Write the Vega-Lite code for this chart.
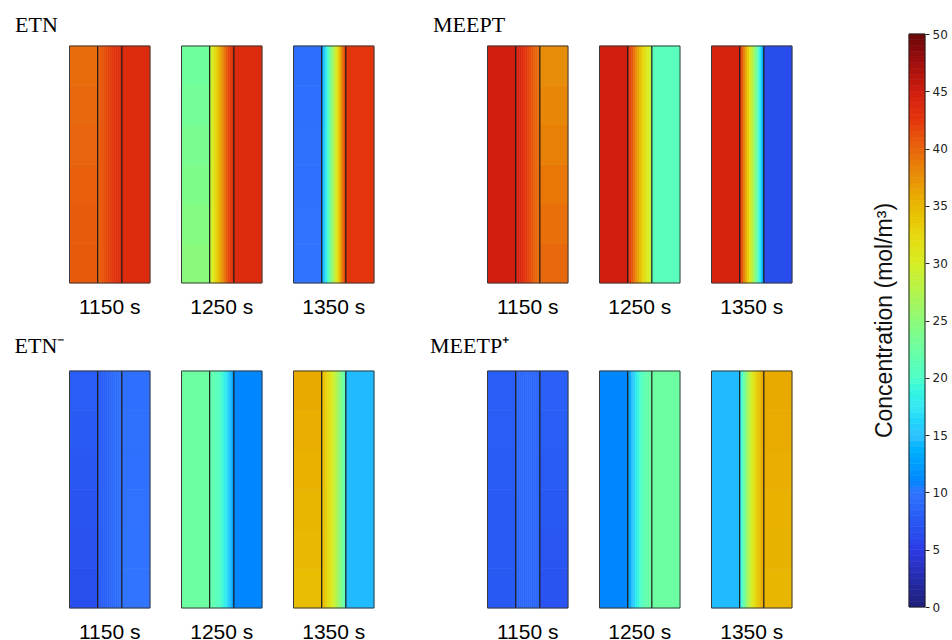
{
  "$schema": "https://vega.github.io/schema/vega-lite/v6.json",
  "background": "white",
  "padding": {"left": 14.5, "top": 14, "right": 0, "bottom": 0},
  "config": {
    "view": {"stroke": null},
    "font": "Liberation Sans",
    "title": {"font": "Liberation Serif", "fontSize": 22, "fontWeight": "normal", "color": "#000", "anchor": "start"},
    "header": {"title": null, "labelOrient": "bottom", "labelFontSize": 21, "labelFont": "Liberation Sans", "labelColor": "#000", "labelPadding": 13}
  },
  "resolve": {"scale": {"color": "shared", "stroke": "shared"}},
  "datasets": {
    "bar": [
      {"lo":0,"hi":0.5,"v":0.25},{"lo":0.5,"hi":1,"v":0.75},{"lo":1,"hi":1.5,"v":1.25},{"lo":1.5,"hi":2,"v":1.75},{"lo":2,"hi":2.5,"v":2.25},
      {"lo":2.5,"hi":3,"v":2.75},{"lo":3,"hi":3.5,"v":3.25},{"lo":3.5,"hi":4,"v":3.75},{"lo":4,"hi":4.5,"v":4.25},{"lo":4.5,"hi":5,"v":4.75},
      {"lo":5,"hi":5.5,"v":5.25},{"lo":5.5,"hi":6,"v":5.75},{"lo":6,"hi":6.5,"v":6.25},{"lo":6.5,"hi":7,"v":6.75},{"lo":7,"hi":7.5,"v":7.25},
      {"lo":7.5,"hi":8,"v":7.75},{"lo":8,"hi":8.5,"v":8.25},{"lo":8.5,"hi":9,"v":8.75},{"lo":9,"hi":9.5,"v":9.25},{"lo":9.5,"hi":10,"v":9.75},
      {"lo":10,"hi":10.5,"v":10.25},{"lo":10.5,"hi":11,"v":10.75},{"lo":11,"hi":11.5,"v":11.25},{"lo":11.5,"hi":12,"v":11.75},{"lo":12,"hi":12.5,"v":12.25},
      {"lo":12.5,"hi":13,"v":12.75},{"lo":13,"hi":13.5,"v":13.25},{"lo":13.5,"hi":14,"v":13.75},{"lo":14,"hi":14.5,"v":14.25},{"lo":14.5,"hi":15,"v":14.75},
      {"lo":15,"hi":15.5,"v":15.25},{"lo":15.5,"hi":16,"v":15.75},{"lo":16,"hi":16.5,"v":16.25},{"lo":16.5,"hi":17,"v":16.75},{"lo":17,"hi":17.5,"v":17.25},
      {"lo":17.5,"hi":18,"v":17.75},{"lo":18,"hi":18.5,"v":18.25},{"lo":18.5,"hi":19,"v":18.75},{"lo":19,"hi":19.5,"v":19.25},{"lo":19.5,"hi":20,"v":19.75},
      {"lo":20,"hi":20.5,"v":20.25},{"lo":20.5,"hi":21,"v":20.75},{"lo":21,"hi":21.5,"v":21.25},{"lo":21.5,"hi":22,"v":21.75},{"lo":22,"hi":22.5,"v":22.25},
      {"lo":22.5,"hi":23,"v":22.75},{"lo":23,"hi":23.5,"v":23.25},{"lo":23.5,"hi":24,"v":23.75},{"lo":24,"hi":24.5,"v":24.25},{"lo":24.5,"hi":25,"v":24.75},
      {"lo":25,"hi":25.5,"v":25.25},{"lo":25.5,"hi":26,"v":25.75},{"lo":26,"hi":26.5,"v":26.25},{"lo":26.5,"hi":27,"v":26.75},{"lo":27,"hi":27.5,"v":27.25},
      {"lo":27.5,"hi":28,"v":27.75},{"lo":28,"hi":28.5,"v":28.25},{"lo":28.5,"hi":29,"v":28.75},{"lo":29,"hi":29.5,"v":29.25},{"lo":29.5,"hi":30,"v":29.75},
      {"lo":30,"hi":30.5,"v":30.25},{"lo":30.5,"hi":31,"v":30.75},{"lo":31,"hi":31.5,"v":31.25},{"lo":31.5,"hi":32,"v":31.75},{"lo":32,"hi":32.5,"v":32.25},
      {"lo":32.5,"hi":33,"v":32.75},{"lo":33,"hi":33.5,"v":33.25},{"lo":33.5,"hi":34,"v":33.75},{"lo":34,"hi":34.5,"v":34.25},{"lo":34.5,"hi":35,"v":34.75},
      {"lo":35,"hi":35.5,"v":35.25},{"lo":35.5,"hi":36,"v":35.75},{"lo":36,"hi":36.5,"v":36.25},{"lo":36.5,"hi":37,"v":36.75},{"lo":37,"hi":37.5,"v":37.25},
      {"lo":37.5,"hi":38,"v":37.75},{"lo":38,"hi":38.5,"v":38.25},{"lo":38.5,"hi":39,"v":38.75},{"lo":39,"hi":39.5,"v":39.25},{"lo":39.5,"hi":40,"v":39.75},
      {"lo":40,"hi":40.5,"v":40.25},{"lo":40.5,"hi":41,"v":40.75},{"lo":41,"hi":41.5,"v":41.25},{"lo":41.5,"hi":42,"v":41.75},{"lo":42,"hi":42.5,"v":42.25},
      {"lo":42.5,"hi":43,"v":42.75},{"lo":43,"hi":43.5,"v":43.25},{"lo":43.5,"hi":44,"v":43.75},{"lo":44,"hi":44.5,"v":44.25},{"lo":44.5,"hi":45,"v":44.75},
      {"lo":45,"hi":45.5,"v":45.25},{"lo":45.5,"hi":46,"v":45.75},{"lo":46,"hi":46.5,"v":46.25},{"lo":46.5,"hi":47,"v":46.75},{"lo":47,"hi":47.5,"v":47.25},
      {"lo":47.5,"hi":48,"v":47.75},{"lo":48,"hi":48.5,"v":48.25},{"lo":48.5,"hi":49,"v":48.75},{"lo":49,"hi":49.5,"v":49.25},{"lo":49.5,"hi":50,"v":49.75}
    ],
    "d": [
      {"g":"ETN","t":"1150 s","k":"c","x0":0,"x1":0.35,"y0":0,"y1":0.1667,"v":40.7},
      {"g":"ETN","t":"1150 s","k":"c","x0":0,"x1":0.35,"y0":0.1667,"y1":0.3333,"v":40.5},
      {"g":"ETN","t":"1150 s","k":"c","x0":0,"x1":0.35,"y0":0.3333,"y1":0.5,"v":40.3},
      {"g":"ETN","t":"1150 s","k":"c","x0":0,"x1":0.35,"y0":0.5,"y1":0.6667,"v":40.0},
      {"g":"ETN","t":"1150 s","k":"c","x0":0,"x1":0.35,"y0":0.6667,"y1":0.8333,"v":39.8},
      {"g":"ETN","t":"1150 s","k":"c","x0":0,"x1":0.35,"y0":0.8333,"y1":1,"v":39.6},
      {"g":"ETN","t":"1150 s","k":"c","x0":0.35,"x1":0.375,"y0":0,"y1":1,"v":40.3},
      {"g":"ETN","t":"1150 s","k":"c","x0":0.375,"x1":0.4,"y0":0,"y1":1,"v":40.6},
      {"g":"ETN","t":"1150 s","k":"c","x0":0.4,"x1":0.425,"y0":0,"y1":1,"v":40.9},
      {"g":"ETN","t":"1150 s","k":"c","x0":0.425,"x1":0.45,"y0":0,"y1":1,"v":41.2},
      {"g":"ETN","t":"1150 s","k":"c","x0":0.45,"x1":0.475,"y0":0,"y1":1,"v":41.5},
      {"g":"ETN","t":"1150 s","k":"c","x0":0.475,"x1":0.5,"y0":0,"y1":1,"v":41.8},
      {"g":"ETN","t":"1150 s","k":"c","x0":0.5,"x1":0.525,"y0":0,"y1":1,"v":42.1},
      {"g":"ETN","t":"1150 s","k":"c","x0":0.525,"x1":0.55,"y0":0,"y1":1,"v":42.4},
      {"g":"ETN","t":"1150 s","k":"c","x0":0.55,"x1":0.575,"y0":0,"y1":1,"v":42.7},
      {"g":"ETN","t":"1150 s","k":"c","x0":0.575,"x1":0.6,"y0":0,"y1":1,"v":42.9},
      {"g":"ETN","t":"1150 s","k":"c","x0":0.6,"x1":0.625,"y0":0,"y1":1,"v":43.1},
      {"g":"ETN","t":"1150 s","k":"c","x0":0.625,"x1":0.65,"y0":0,"y1":1,"v":43.3},
      {"g":"ETN","t":"1150 s","k":"c","x0":0.65,"x1":1,"y0":0,"y1":1,"v":43.5},
      {"g":"ETN","t":"1150 s","k":"e","x0":0.35},
      {"g":"ETN","t":"1150 s","k":"e","x0":0.65},

      {"g":"ETN","t":"1250 s","k":"c","x0":0,"x1":0.35,"y0":0,"y1":0.1667,"v":24.8},
      {"g":"ETN","t":"1250 s","k":"c","x0":0,"x1":0.35,"y0":0.1667,"y1":0.3333,"v":24.4},
      {"g":"ETN","t":"1250 s","k":"c","x0":0,"x1":0.35,"y0":0.3333,"y1":0.5,"v":24.0},
      {"g":"ETN","t":"1250 s","k":"c","x0":0,"x1":0.35,"y0":0.5,"y1":0.6667,"v":23.6},
      {"g":"ETN","t":"1250 s","k":"c","x0":0,"x1":0.35,"y0":0.6667,"y1":0.8333,"v":23.2},
      {"g":"ETN","t":"1250 s","k":"c","x0":0,"x1":0.35,"y0":0.8333,"y1":1,"v":22.8},
      {"g":"ETN","t":"1250 s","k":"c","x0":0.35,"x1":0.375,"y0":0,"y1":1,"v":28.5},
      {"g":"ETN","t":"1250 s","k":"c","x0":0.375,"x1":0.4,"y0":0,"y1":1,"v":30},
      {"g":"ETN","t":"1250 s","k":"c","x0":0.4,"x1":0.425,"y0":0,"y1":1,"v":31.5},
      {"g":"ETN","t":"1250 s","k":"c","x0":0.425,"x1":0.45,"y0":0,"y1":1,"v":33},
      {"g":"ETN","t":"1250 s","k":"c","x0":0.45,"x1":0.475,"y0":0,"y1":1,"v":34.5},
      {"g":"ETN","t":"1250 s","k":"c","x0":0.475,"x1":0.5,"y0":0,"y1":1,"v":36},
      {"g":"ETN","t":"1250 s","k":"c","x0":0.5,"x1":0.525,"y0":0,"y1":1,"v":37.5},
      {"g":"ETN","t":"1250 s","k":"c","x0":0.525,"x1":0.55,"y0":0,"y1":1,"v":39},
      {"g":"ETN","t":"1250 s","k":"c","x0":0.55,"x1":0.575,"y0":0,"y1":1,"v":40.5},
      {"g":"ETN","t":"1250 s","k":"c","x0":0.575,"x1":0.6,"y0":0,"y1":1,"v":41.5},
      {"g":"ETN","t":"1250 s","k":"c","x0":0.6,"x1":0.625,"y0":0,"y1":1,"v":42.3},
      {"g":"ETN","t":"1250 s","k":"c","x0":0.625,"x1":0.65,"y0":0,"y1":1,"v":42.9},
      {"g":"ETN","t":"1250 s","k":"c","x0":0.65,"x1":1,"y0":0,"y1":1,"v":43.5},
      {"g":"ETN","t":"1250 s","k":"e","x0":0.35},
      {"g":"ETN","t":"1250 s","k":"e","x0":0.65},

      {"g":"ETN","t":"1350 s","k":"c","x0":0,"x1":0.35,"y0":0,"y1":0.1667,"v":9.9},
      {"g":"ETN","t":"1350 s","k":"c","x0":0,"x1":0.35,"y0":0.1667,"y1":0.3333,"v":9.8},
      {"g":"ETN","t":"1350 s","k":"c","x0":0,"x1":0.35,"y0":0.3333,"y1":0.5,"v":9.7},
      {"g":"ETN","t":"1350 s","k":"c","x0":0,"x1":0.35,"y0":0.5,"y1":0.6667,"v":9.6},
      {"g":"ETN","t":"1350 s","k":"c","x0":0,"x1":0.35,"y0":0.6667,"y1":0.8333,"v":9.5},
      {"g":"ETN","t":"1350 s","k":"c","x0":0,"x1":0.35,"y0":0.8333,"y1":1,"v":9.4},
      {"g":"ETN","t":"1350 s","k":"c","x0":0.35,"x1":0.375,"y0":0,"y1":1,"v":13},
      {"g":"ETN","t":"1350 s","k":"c","x0":0.375,"x1":0.4,"y0":0,"y1":1,"v":15.5},
      {"g":"ETN","t":"1350 s","k":"c","x0":0.4,"x1":0.425,"y0":0,"y1":1,"v":18},
      {"g":"ETN","t":"1350 s","k":"c","x0":0.425,"x1":0.45,"y0":0,"y1":1,"v":20.5},
      {"g":"ETN","t":"1350 s","k":"c","x0":0.45,"x1":0.475,"y0":0,"y1":1,"v":23},
      {"g":"ETN","t":"1350 s","k":"c","x0":0.475,"x1":0.5,"y0":0,"y1":1,"v":25.5},
      {"g":"ETN","t":"1350 s","k":"c","x0":0.5,"x1":0.525,"y0":0,"y1":1,"v":28},
      {"g":"ETN","t":"1350 s","k":"c","x0":0.525,"x1":0.55,"y0":0,"y1":1,"v":30.5},
      {"g":"ETN","t":"1350 s","k":"c","x0":0.55,"x1":0.575,"y0":0,"y1":1,"v":33},
      {"g":"ETN","t":"1350 s","k":"c","x0":0.575,"x1":0.6,"y0":0,"y1":1,"v":36},
      {"g":"ETN","t":"1350 s","k":"c","x0":0.6,"x1":0.625,"y0":0,"y1":1,"v":39},
      {"g":"ETN","t":"1350 s","k":"c","x0":0.625,"x1":0.65,"y0":0,"y1":1,"v":41.5},
      {"g":"ETN","t":"1350 s","k":"c","x0":0.65,"x1":1,"y0":0,"y1":1,"v":42.5},
      {"g":"ETN","t":"1350 s","k":"e","x0":0.35},
      {"g":"ETN","t":"1350 s","k":"e","x0":0.65},

      {"g":"MEEPT","t":"1150 s","k":"c","x0":0,"x1":0.35,"y0":0,"y1":1,"v":44.8},
      {"g":"MEEPT","t":"1150 s","k":"c","x0":0.35,"x1":0.375,"y0":0,"y1":1,"v":44.6},
      {"g":"MEEPT","t":"1150 s","k":"c","x0":0.375,"x1":0.4,"y0":0,"y1":1,"v":44.2},
      {"g":"MEEPT","t":"1150 s","k":"c","x0":0.4,"x1":0.425,"y0":0,"y1":1,"v":43.8},
      {"g":"MEEPT","t":"1150 s","k":"c","x0":0.425,"x1":0.45,"y0":0,"y1":1,"v":43.3},
      {"g":"MEEPT","t":"1150 s","k":"c","x0":0.45,"x1":0.475,"y0":0,"y1":1,"v":42.8},
      {"g":"MEEPT","t":"1150 s","k":"c","x0":0.475,"x1":0.5,"y0":0,"y1":1,"v":42.3},
      {"g":"MEEPT","t":"1150 s","k":"c","x0":0.5,"x1":0.525,"y0":0,"y1":1,"v":41.8},
      {"g":"MEEPT","t":"1150 s","k":"c","x0":0.525,"x1":0.55,"y0":0,"y1":1,"v":41.3},
      {"g":"MEEPT","t":"1150 s","k":"c","x0":0.55,"x1":0.575,"y0":0,"y1":1,"v":40.8},
      {"g":"MEEPT","t":"1150 s","k":"c","x0":0.575,"x1":0.6,"y0":0,"y1":1,"v":40.3},
      {"g":"MEEPT","t":"1150 s","k":"c","x0":0.6,"x1":0.625,"y0":0,"y1":1,"v":39.8},
      {"g":"MEEPT","t":"1150 s","k":"c","x0":0.625,"x1":0.65,"y0":0,"y1":1,"v":39.4},
      {"g":"MEEPT","t":"1150 s","k":"c","x0":0.65,"x1":1,"y0":0,"y1":0.1667,"v":39.8},
      {"g":"MEEPT","t":"1150 s","k":"c","x0":0.65,"x1":1,"y0":0.1667,"y1":0.3333,"v":39.4},
      {"g":"MEEPT","t":"1150 s","k":"c","x0":0.65,"x1":1,"y0":0.3333,"y1":0.5,"v":39.0},
      {"g":"MEEPT","t":"1150 s","k":"c","x0":0.65,"x1":1,"y0":0.5,"y1":0.6667,"v":38.5},
      {"g":"MEEPT","t":"1150 s","k":"c","x0":0.65,"x1":1,"y0":0.6667,"y1":0.8333,"v":38.1},
      {"g":"MEEPT","t":"1150 s","k":"c","x0":0.65,"x1":1,"y0":0.8333,"y1":1,"v":37.7},
      {"g":"MEEPT","t":"1150 s","k":"e","x0":0.35},
      {"g":"MEEPT","t":"1150 s","k":"e","x0":0.65},

      {"g":"MEEPT","t":"1250 s","k":"c","x0":0,"x1":0.35,"y0":0,"y1":1,"v":44.8},
      {"g":"MEEPT","t":"1250 s","k":"c","x0":0.35,"x1":0.375,"y0":0,"y1":1,"v":43.5},
      {"g":"MEEPT","t":"1250 s","k":"c","x0":0.375,"x1":0.4,"y0":0,"y1":1,"v":42},
      {"g":"MEEPT","t":"1250 s","k":"c","x0":0.4,"x1":0.425,"y0":0,"y1":1,"v":40.5},
      {"g":"MEEPT","t":"1250 s","k":"c","x0":0.425,"x1":0.45,"y0":0,"y1":1,"v":39},
      {"g":"MEEPT","t":"1250 s","k":"c","x0":0.45,"x1":0.475,"y0":0,"y1":1,"v":37.5},
      {"g":"MEEPT","t":"1250 s","k":"c","x0":0.475,"x1":0.5,"y0":0,"y1":1,"v":36},
      {"g":"MEEPT","t":"1250 s","k":"c","x0":0.5,"x1":0.525,"y0":0,"y1":1,"v":34.5},
      {"g":"MEEPT","t":"1250 s","k":"c","x0":0.525,"x1":0.55,"y0":0,"y1":1,"v":33},
      {"g":"MEEPT","t":"1250 s","k":"c","x0":0.55,"x1":0.575,"y0":0,"y1":1,"v":32},
      {"g":"MEEPT","t":"1250 s","k":"c","x0":0.575,"x1":0.6,"y0":0,"y1":1,"v":31},
      {"g":"MEEPT","t":"1250 s","k":"c","x0":0.6,"x1":0.625,"y0":0,"y1":1,"v":30},
      {"g":"MEEPT","t":"1250 s","k":"c","x0":0.625,"x1":0.65,"y0":0,"y1":1,"v":29},
      {"g":"MEEPT","t":"1250 s","k":"c","x0":0.65,"x1":1,"y0":0,"y1":1,"v":21},
      {"g":"MEEPT","t":"1250 s","k":"e","x0":0.35},
      {"g":"MEEPT","t":"1250 s","k":"e","x0":0.65},

      {"g":"MEEPT","t":"1350 s","k":"c","x0":0,"x1":0.35,"y0":0,"y1":1,"v":44.3},
      {"g":"MEEPT","t":"1350 s","k":"c","x0":0.35,"x1":0.375,"y0":0,"y1":1,"v":43},
      {"g":"MEEPT","t":"1350 s","k":"c","x0":0.375,"x1":0.4,"y0":0,"y1":1,"v":40.5},
      {"g":"MEEPT","t":"1350 s","k":"c","x0":0.4,"x1":0.425,"y0":0,"y1":1,"v":38},
      {"g":"MEEPT","t":"1350 s","k":"c","x0":0.425,"x1":0.45,"y0":0,"y1":1,"v":35.5},
      {"g":"MEEPT","t":"1350 s","k":"c","x0":0.45,"x1":0.475,"y0":0,"y1":1,"v":33},
      {"g":"MEEPT","t":"1350 s","k":"c","x0":0.475,"x1":0.5,"y0":0,"y1":1,"v":30.5},
      {"g":"MEEPT","t":"1350 s","k":"c","x0":0.5,"x1":0.525,"y0":0,"y1":1,"v":28},
      {"g":"MEEPT","t":"1350 s","k":"c","x0":0.525,"x1":0.55,"y0":0,"y1":1,"v":25.5},
      {"g":"MEEPT","t":"1350 s","k":"c","x0":0.55,"x1":0.575,"y0":0,"y1":1,"v":23},
      {"g":"MEEPT","t":"1350 s","k":"c","x0":0.575,"x1":0.6,"y0":0,"y1":1,"v":20},
      {"g":"MEEPT","t":"1350 s","k":"c","x0":0.6,"x1":0.625,"y0":0,"y1":1,"v":17},
      {"g":"MEEPT","t":"1350 s","k":"c","x0":0.625,"x1":0.65,"y0":0,"y1":1,"v":14},
      {"g":"MEEPT","t":"1350 s","k":"c","x0":0.65,"x1":1,"y0":0,"y1":1,"v":6.5},
      {"g":"MEEPT","t":"1350 s","k":"e","x0":0.35},
      {"g":"MEEPT","t":"1350 s","k":"e","x0":0.65},

      {"g":"ETNm","t":"1150 s","k":"c","x0":0,"x1":0.35,"y0":0,"y1":0.1667,"v":6.6},
      {"g":"ETNm","t":"1150 s","k":"c","x0":0,"x1":0.35,"y0":0.1667,"y1":0.3333,"v":6.9},
      {"g":"ETNm","t":"1150 s","k":"c","x0":0,"x1":0.35,"y0":0.3333,"y1":0.5,"v":7.1},
      {"g":"ETNm","t":"1150 s","k":"c","x0":0,"x1":0.35,"y0":0.5,"y1":0.6667,"v":7.4},
      {"g":"ETNm","t":"1150 s","k":"c","x0":0,"x1":0.35,"y0":0.6667,"y1":0.8333,"v":7.6},
      {"g":"ETNm","t":"1150 s","k":"c","x0":0,"x1":0.35,"y0":0.8333,"y1":1,"v":7.9},
      {"g":"ETNm","t":"1150 s","k":"c","x0":0.35,"x1":0.375,"y0":0,"y1":1,"v":7.6},
      {"g":"ETNm","t":"1150 s","k":"c","x0":0.375,"x1":0.4,"y0":0,"y1":1,"v":7.8},
      {"g":"ETNm","t":"1150 s","k":"c","x0":0.4,"x1":0.425,"y0":0,"y1":1,"v":8},
      {"g":"ETNm","t":"1150 s","k":"c","x0":0.425,"x1":0.45,"y0":0,"y1":1,"v":8.2},
      {"g":"ETNm","t":"1150 s","k":"c","x0":0.45,"x1":0.475,"y0":0,"y1":1,"v":8.4},
      {"g":"ETNm","t":"1150 s","k":"c","x0":0.475,"x1":0.5,"y0":0,"y1":1,"v":8.6},
      {"g":"ETNm","t":"1150 s","k":"c","x0":0.5,"x1":0.525,"y0":0,"y1":1,"v":8.8},
      {"g":"ETNm","t":"1150 s","k":"c","x0":0.525,"x1":0.55,"y0":0,"y1":1,"v":9},
      {"g":"ETNm","t":"1150 s","k":"c","x0":0.55,"x1":0.575,"y0":0,"y1":1,"v":9.2},
      {"g":"ETNm","t":"1150 s","k":"c","x0":0.575,"x1":0.6,"y0":0,"y1":1,"v":9.3},
      {"g":"ETNm","t":"1150 s","k":"c","x0":0.6,"x1":0.625,"y0":0,"y1":1,"v":9.4},
      {"g":"ETNm","t":"1150 s","k":"c","x0":0.625,"x1":0.65,"y0":0,"y1":1,"v":9.5},
      {"g":"ETNm","t":"1150 s","k":"c","x0":0.65,"x1":1,"y0":0,"y1":0.1667,"v":10.0},
      {"g":"ETNm","t":"1150 s","k":"c","x0":0.65,"x1":1,"y0":0.1667,"y1":0.3333,"v":9.9},
      {"g":"ETNm","t":"1150 s","k":"c","x0":0.65,"x1":1,"y0":0.3333,"y1":0.5,"v":9.8},
      {"g":"ETNm","t":"1150 s","k":"c","x0":0.65,"x1":1,"y0":0.5,"y1":0.6667,"v":9.7},
      {"g":"ETNm","t":"1150 s","k":"c","x0":0.65,"x1":1,"y0":0.6667,"y1":0.8333,"v":9.6},
      {"g":"ETNm","t":"1150 s","k":"c","x0":0.65,"x1":1,"y0":0.8333,"y1":1,"v":9.5},
      {"g":"ETNm","t":"1150 s","k":"e","x0":0.35},
      {"g":"ETNm","t":"1150 s","k":"e","x0":0.65},

      {"g":"ETNm","t":"1250 s","k":"c","x0":0,"x1":0.35,"y0":0,"y1":1,"v":22.5},
      {"g":"ETNm","t":"1250 s","k":"c","x0":0.35,"x1":0.375,"y0":0,"y1":1,"v":22},
      {"g":"ETNm","t":"1250 s","k":"c","x0":0.375,"x1":0.4,"y0":0,"y1":1,"v":21.7},
      {"g":"ETNm","t":"1250 s","k":"c","x0":0.4,"x1":0.425,"y0":0,"y1":1,"v":21.4},
      {"g":"ETNm","t":"1250 s","k":"c","x0":0.425,"x1":0.45,"y0":0,"y1":1,"v":21},
      {"g":"ETNm","t":"1250 s","k":"c","x0":0.45,"x1":0.475,"y0":0,"y1":1,"v":20.5},
      {"g":"ETNm","t":"1250 s","k":"c","x0":0.475,"x1":0.5,"y0":0,"y1":1,"v":20},
      {"g":"ETNm","t":"1250 s","k":"c","x0":0.5,"x1":0.525,"y0":0,"y1":1,"v":19.3},
      {"g":"ETNm","t":"1250 s","k":"c","x0":0.525,"x1":0.55,"y0":0,"y1":1,"v":18.5},
      {"g":"ETNm","t":"1250 s","k":"c","x0":0.55,"x1":0.575,"y0":0,"y1":1,"v":17.3},
      {"g":"ETNm","t":"1250 s","k":"c","x0":0.575,"x1":0.6,"y0":0,"y1":1,"v":16},
      {"g":"ETNm","t":"1250 s","k":"c","x0":0.6,"x1":0.625,"y0":0,"y1":1,"v":14.5},
      {"g":"ETNm","t":"1250 s","k":"c","x0":0.625,"x1":0.65,"y0":0,"y1":1,"v":13},
      {"g":"ETNm","t":"1250 s","k":"c","x0":0.65,"x1":1,"y0":0,"y1":1,"v":11},
      {"g":"ETNm","t":"1250 s","k":"e","x0":0.35},
      {"g":"ETNm","t":"1250 s","k":"e","x0":0.65},

      {"g":"ETNm","t":"1350 s","k":"c","x0":0,"x1":0.35,"y0":0,"y1":0.1667,"v":34.6},
      {"g":"ETNm","t":"1350 s","k":"c","x0":0,"x1":0.35,"y0":0.1667,"y1":0.3333,"v":34.9},
      {"g":"ETNm","t":"1350 s","k":"c","x0":0,"x1":0.35,"y0":0.3333,"y1":0.5,"v":35.1},
      {"g":"ETNm","t":"1350 s","k":"c","x0":0,"x1":0.35,"y0":0.5,"y1":0.6667,"v":35.4},
      {"g":"ETNm","t":"1350 s","k":"c","x0":0,"x1":0.35,"y0":0.6667,"y1":0.8333,"v":35.6},
      {"g":"ETNm","t":"1350 s","k":"c","x0":0,"x1":0.35,"y0":0.8333,"y1":1,"v":35.9},
      {"g":"ETNm","t":"1350 s","k":"c","x0":0.35,"x1":0.375,"y0":0,"y1":1,"v":35},
      {"g":"ETNm","t":"1350 s","k":"c","x0":0.375,"x1":0.4,"y0":0,"y1":1,"v":34},
      {"g":"ETNm","t":"1350 s","k":"c","x0":0.4,"x1":0.425,"y0":0,"y1":1,"v":33},
      {"g":"ETNm","t":"1350 s","k":"c","x0":0.425,"x1":0.45,"y0":0,"y1":1,"v":32},
      {"g":"ETNm","t":"1350 s","k":"c","x0":0.45,"x1":0.475,"y0":0,"y1":1,"v":31},
      {"g":"ETNm","t":"1350 s","k":"c","x0":0.475,"x1":0.5,"y0":0,"y1":1,"v":30},
      {"g":"ETNm","t":"1350 s","k":"c","x0":0.5,"x1":0.525,"y0":0,"y1":1,"v":29},
      {"g":"ETNm","t":"1350 s","k":"c","x0":0.525,"x1":0.55,"y0":0,"y1":1,"v":27.5},
      {"g":"ETNm","t":"1350 s","k":"c","x0":0.55,"x1":0.575,"y0":0,"y1":1,"v":26},
      {"g":"ETNm","t":"1350 s","k":"c","x0":0.575,"x1":0.6,"y0":0,"y1":1,"v":24.5},
      {"g":"ETNm","t":"1350 s","k":"c","x0":0.6,"x1":0.625,"y0":0,"y1":1,"v":23},
      {"g":"ETNm","t":"1350 s","k":"c","x0":0.625,"x1":0.65,"y0":0,"y1":1,"v":21.5},
      {"g":"ETNm","t":"1350 s","k":"c","x0":0.65,"x1":1,"y0":0,"y1":1,"v":14.5},
      {"g":"ETNm","t":"1350 s","k":"e","x0":0.35},
      {"g":"ETNm","t":"1350 s","k":"e","x0":0.65},

      {"g":"MEETPp","t":"1150 s","k":"c","x0":0,"x1":0.35,"y0":0,"y1":0.1667,"v":7.5},
      {"g":"MEETPp","t":"1150 s","k":"c","x0":0,"x1":0.35,"y0":0.1667,"y1":0.3333,"v":7.6},
      {"g":"MEETPp","t":"1150 s","k":"c","x0":0,"x1":0.35,"y0":0.3333,"y1":0.5,"v":7.7},
      {"g":"MEETPp","t":"1150 s","k":"c","x0":0,"x1":0.35,"y0":0.5,"y1":0.6667,"v":7.8},
      {"g":"MEETPp","t":"1150 s","k":"c","x0":0,"x1":0.35,"y0":0.6667,"y1":0.8333,"v":7.9},
      {"g":"MEETPp","t":"1150 s","k":"c","x0":0,"x1":0.35,"y0":0.8333,"y1":1,"v":8.0},
      {"g":"MEETPp","t":"1150 s","k":"c","x0":0.35,"x1":0.375,"y0":0,"y1":1,"v":8.6},
      {"g":"MEETPp","t":"1150 s","k":"c","x0":0.375,"x1":0.4,"y0":0,"y1":1,"v":8.7},
      {"g":"MEETPp","t":"1150 s","k":"c","x0":0.4,"x1":0.425,"y0":0,"y1":1,"v":8.8},
      {"g":"MEETPp","t":"1150 s","k":"c","x0":0.425,"x1":0.45,"y0":0,"y1":1,"v":8.9},
      {"g":"MEETPp","t":"1150 s","k":"c","x0":0.45,"x1":0.475,"y0":0,"y1":1,"v":8.9},
      {"g":"MEETPp","t":"1150 s","k":"c","x0":0.475,"x1":0.5,"y0":0,"y1":1,"v":9},
      {"g":"MEETPp","t":"1150 s","k":"c","x0":0.5,"x1":0.525,"y0":0,"y1":1,"v":9},
      {"g":"MEETPp","t":"1150 s","k":"c","x0":0.525,"x1":0.55,"y0":0,"y1":1,"v":9},
      {"g":"MEETPp","t":"1150 s","k":"c","x0":0.55,"x1":0.575,"y0":0,"y1":1,"v":8.9},
      {"g":"MEETPp","t":"1150 s","k":"c","x0":0.575,"x1":0.6,"y0":0,"y1":1,"v":8.9},
      {"g":"MEETPp","t":"1150 s","k":"c","x0":0.6,"x1":0.625,"y0":0,"y1":1,"v":8.8},
      {"g":"MEETPp","t":"1150 s","k":"c","x0":0.625,"x1":0.65,"y0":0,"y1":1,"v":8.8},
      {"g":"MEETPp","t":"1150 s","k":"c","x0":0.65,"x1":1,"y0":0,"y1":0.1667,"v":7.1},
      {"g":"MEETPp","t":"1150 s","k":"c","x0":0.65,"x1":1,"y0":0.1667,"y1":0.3333,"v":7.3},
      {"g":"MEETPp","t":"1150 s","k":"c","x0":0.65,"x1":1,"y0":0.3333,"y1":0.5,"v":7.5},
      {"g":"MEETPp","t":"1150 s","k":"c","x0":0.65,"x1":1,"y0":0.5,"y1":0.6667,"v":7.8},
      {"g":"MEETPp","t":"1150 s","k":"c","x0":0.65,"x1":1,"y0":0.6667,"y1":0.8333,"v":8.0},
      {"g":"MEETPp","t":"1150 s","k":"c","x0":0.65,"x1":1,"y0":0.8333,"y1":1,"v":8.2},
      {"g":"MEETPp","t":"1150 s","k":"e","x0":0.35},
      {"g":"MEETPp","t":"1150 s","k":"e","x0":0.65},

      {"g":"MEETPp","t":"1250 s","k":"c","x0":0,"x1":0.35,"y0":0,"y1":1,"v":11},
      {"g":"MEETPp","t":"1250 s","k":"c","x0":0.35,"x1":0.375,"y0":0,"y1":1,"v":12},
      {"g":"MEETPp","t":"1250 s","k":"c","x0":0.375,"x1":0.4,"y0":0,"y1":1,"v":13.5},
      {"g":"MEETPp","t":"1250 s","k":"c","x0":0.4,"x1":0.425,"y0":0,"y1":1,"v":15},
      {"g":"MEETPp","t":"1250 s","k":"c","x0":0.425,"x1":0.45,"y0":0,"y1":1,"v":16.5},
      {"g":"MEETPp","t":"1250 s","k":"c","x0":0.45,"x1":0.475,"y0":0,"y1":1,"v":18},
      {"g":"MEETPp","t":"1250 s","k":"c","x0":0.475,"x1":0.5,"y0":0,"y1":1,"v":19},
      {"g":"MEETPp","t":"1250 s","k":"c","x0":0.5,"x1":0.525,"y0":0,"y1":1,"v":20},
      {"g":"MEETPp","t":"1250 s","k":"c","x0":0.525,"x1":0.55,"y0":0,"y1":1,"v":20.8},
      {"g":"MEETPp","t":"1250 s","k":"c","x0":0.55,"x1":0.575,"y0":0,"y1":1,"v":21.4},
      {"g":"MEETPp","t":"1250 s","k":"c","x0":0.575,"x1":0.6,"y0":0,"y1":1,"v":21.8},
      {"g":"MEETPp","t":"1250 s","k":"c","x0":0.6,"x1":0.625,"y0":0,"y1":1,"v":22.1},
      {"g":"MEETPp","t":"1250 s","k":"c","x0":0.625,"x1":0.65,"y0":0,"y1":1,"v":22.3},
      {"g":"MEETPp","t":"1250 s","k":"c","x0":0.65,"x1":1,"y0":0,"y1":1,"v":22.5},
      {"g":"MEETPp","t":"1250 s","k":"e","x0":0.35},
      {"g":"MEETPp","t":"1250 s","k":"e","x0":0.65},

      {"g":"MEETPp","t":"1350 s","k":"c","x0":0,"x1":0.35,"y0":0,"y1":1,"v":14.5},
      {"g":"MEETPp","t":"1350 s","k":"c","x0":0.35,"x1":0.375,"y0":0,"y1":1,"v":17.5},
      {"g":"MEETPp","t":"1350 s","k":"c","x0":0.375,"x1":0.4,"y0":0,"y1":1,"v":20},
      {"g":"MEETPp","t":"1350 s","k":"c","x0":0.4,"x1":0.425,"y0":0,"y1":1,"v":22.5},
      {"g":"MEETPp","t":"1350 s","k":"c","x0":0.425,"x1":0.45,"y0":0,"y1":1,"v":25},
      {"g":"MEETPp","t":"1350 s","k":"c","x0":0.45,"x1":0.475,"y0":0,"y1":1,"v":27},
      {"g":"MEETPp","t":"1350 s","k":"c","x0":0.475,"x1":0.5,"y0":0,"y1":1,"v":29},
      {"g":"MEETPp","t":"1350 s","k":"c","x0":0.5,"x1":0.525,"y0":0,"y1":1,"v":30.5},
      {"g":"MEETPp","t":"1350 s","k":"c","x0":0.525,"x1":0.55,"y0":0,"y1":1,"v":32},
      {"g":"MEETPp","t":"1350 s","k":"c","x0":0.55,"x1":0.575,"y0":0,"y1":1,"v":33},
      {"g":"MEETPp","t":"1350 s","k":"c","x0":0.575,"x1":0.6,"y0":0,"y1":1,"v":34},
      {"g":"MEETPp","t":"1350 s","k":"c","x0":0.6,"x1":0.625,"y0":0,"y1":1,"v":35},
      {"g":"MEETPp","t":"1350 s","k":"c","x0":0.625,"x1":0.65,"y0":0,"y1":1,"v":36},
      {"g":"MEETPp","t":"1350 s","k":"c","x0":0.65,"x1":1,"y0":0,"y1":0.1667,"v":35.1},
      {"g":"MEETPp","t":"1350 s","k":"c","x0":0.65,"x1":1,"y0":0.1667,"y1":0.3333,"v":35.3},
      {"g":"MEETPp","t":"1350 s","k":"c","x0":0.65,"x1":1,"y0":0.3333,"y1":0.5,"v":35.4},
      {"g":"MEETPp","t":"1350 s","k":"c","x0":0.65,"x1":1,"y0":0.5,"y1":0.6667,"v":35.6},
      {"g":"MEETPp","t":"1350 s","k":"c","x0":0.65,"x1":1,"y0":0.6667,"y1":0.8333,"v":35.8},
      {"g":"MEETPp","t":"1350 s","k":"c","x0":0.65,"x1":1,"y0":0.8333,"y1":1,"v":35.9},
      {"g":"MEETPp","t":"1350 s","k":"e","x0":0.35},
      {"g":"MEETPp","t":"1350 s","k":"e","x0":0.65}
    ]
  },
  "spacing": 80.5,
  "hconcat": [
    {
      "spacing": 17,
      "vconcat": [
        {
          "spacing": 58,
          "hconcat": [
            {
              "title": {"text": "ETN", "dx": -54, "offset": -3},
              "data": {"name": "d"},
              "transform": [{"filter": "datum.g === 'ETN'"}],
              "facet": {"column": {"field": "t", "type": "nominal"}},
              "spacing": 30,
              "spec": {
                "width": 80.5, "height": 249,
                "layer": [
                  {"transform": [{"filter": "datum.k === 'c'"}],
                   "mark": {"type": "rect", "strokeWidth": 0.6},
                   "encoding": {
                     "x": {"field": "x0", "type": "quantitative", "scale": {"domain": [0, 1], "nice": false, "zero": false}, "axis": null},
                     "x2": {"field": "x1"},
                     "y": {"field": "y0", "type": "quantitative", "scale": {"domain": [0, 1.0506], "nice": false, "zero": false}, "axis": null},
                     "y2": {"field": "y1"},
                     "color": {"field": "v", "type": "quantitative", "legend": null,
                       "scale": {"domain": [0,5,10,15,17.5,20,22.5,25,27.5,30,32.5,35,37.5,40,42.5,45,47.5,50], "range": ["#1e1e78","#2c3ae4","#3174ff","#36c2ff","#3ce8f2","#52ffca","#6cffa2","#8cfa78","#b2f44c","#d6ee22","#e6d810","#e8b802","#e8900a","#e8640e","#e4340c","#d01c0e","#a00e0c","#6c0808"]}},
                     "stroke": {"field": "v", "type": "quantitative", "legend": null,
                       "scale": {"domain": [0,5,10,15,17.5,20,22.5,25,27.5,30,32.5,35,37.5,40,42.5,45,47.5,50], "range": ["#1e1e78","#2c3ae4","#3174ff","#36c2ff","#3ce8f2","#52ffca","#6cffa2","#8cfa78","#b2f44c","#d6ee22","#e6d810","#e8b802","#e8900a","#e8640e","#e4340c","#d01c0e","#a00e0c","#6c0808"]}}
                   }},
                  {"transform": [{"filter": "datum.k === 'e'"}],
                   "mark": {"type": "rule", "color": "#1a1a1a", "strokeWidth": 1.2},
                   "encoding": {"x": {"field": "x0", "type": "quantitative"}, "y": {"datum": 0, "type": "quantitative"}, "y2": {"datum": 1}}},
                  {"transform": [{"filter": "datum.k === 'e' && datum.x0 === 0.35"}],
                   "mark": {"type": "rect", "fill": "transparent", "stroke": "#3a3a3a", "strokeWidth": 1},
                   "encoding": {"x": {"datum": 0, "type": "quantitative"}, "x2": {"datum": 1}, "y": {"datum": 0, "type": "quantitative"}, "y2": {"datum": 1}}}
                ]
              }
            },
            {
              "title": {"text": "MEEPT", "dx": -54, "offset": -3},
              "data": {"name": "d"},
              "transform": [{"filter": "datum.g === 'MEEPT'"}],
              "facet": {"column": {"field": "t", "type": "nominal"}},
              "spacing": 30,
              "spec": {
                "width": 80.5, "height": 249,
                "layer": [
                  {"transform": [{"filter": "datum.k === 'c'"}],
                   "mark": {"type": "rect", "strokeWidth": 0.6},
                   "encoding": {
                     "x": {"field": "x0", "type": "quantitative", "scale": {"domain": [0, 1], "nice": false, "zero": false}, "axis": null},
                     "x2": {"field": "x1"},
                     "y": {"field": "y0", "type": "quantitative", "scale": {"domain": [0, 1.0506], "nice": false, "zero": false}, "axis": null},
                     "y2": {"field": "y1"},
                     "color": {"field": "v", "type": "quantitative", "legend": null,
                       "scale": {"domain": [0,5,10,15,17.5,20,22.5,25,27.5,30,32.5,35,37.5,40,42.5,45,47.5,50], "range": ["#1e1e78","#2c3ae4","#3174ff","#36c2ff","#3ce8f2","#52ffca","#6cffa2","#8cfa78","#b2f44c","#d6ee22","#e6d810","#e8b802","#e8900a","#e8640e","#e4340c","#d01c0e","#a00e0c","#6c0808"]}},
                     "stroke": {"field": "v", "type": "quantitative", "legend": null,
                       "scale": {"domain": [0,5,10,15,17.5,20,22.5,25,27.5,30,32.5,35,37.5,40,42.5,45,47.5,50], "range": ["#1e1e78","#2c3ae4","#3174ff","#36c2ff","#3ce8f2","#52ffca","#6cffa2","#8cfa78","#b2f44c","#d6ee22","#e6d810","#e8b802","#e8900a","#e8640e","#e4340c","#d01c0e","#a00e0c","#6c0808"]}}
                   }},
                  {"transform": [{"filter": "datum.k === 'e'"}],
                   "mark": {"type": "rule", "color": "#1a1a1a", "strokeWidth": 1.2},
                   "encoding": {"x": {"field": "x0", "type": "quantitative"}, "y": {"datum": 0, "type": "quantitative"}, "y2": {"datum": 1}}},
                  {"transform": [{"filter": "datum.k === 'e' && datum.x0 === 0.35"}],
                   "mark": {"type": "rect", "fill": "transparent", "stroke": "#3a3a3a", "strokeWidth": 1},
                   "encoding": {"x": {"datum": 0, "type": "quantitative"}, "x2": {"datum": 1}, "y": {"datum": 0, "type": "quantitative"}, "y2": {"datum": 1}}}
                ]
              }
            }
          ]
        },
        {
          "spacing": 55,
          "hconcat": [
            {
              "title": {"text": "ETN⁻", "dx": -54.5, "offset": 1},
              "data": {"name": "d"},
              "transform": [{"filter": "datum.g === 'ETNm'"}],
              "facet": {"column": {"field": "t", "type": "nominal"}},
              "spacing": 30,
              "spec": {
                "width": 80.5, "height": 249,
                "layer": [
                  {"transform": [{"filter": "datum.k === 'c'"}],
                   "mark": {"type": "rect", "strokeWidth": 0.6},
                   "encoding": {
                     "x": {"field": "x0", "type": "quantitative", "scale": {"domain": [0, 1], "nice": false, "zero": false}, "axis": null},
                     "x2": {"field": "x1"},
                     "y": {"field": "y0", "type": "quantitative", "scale": {"domain": [0, 1.0506], "nice": false, "zero": false}, "axis": null},
                     "y2": {"field": "y1"},
                     "color": {"field": "v", "type": "quantitative", "legend": null,
                       "scale": {"domain": [0,5,10,15,17.5,20,22.5,25,27.5,30,32.5,35,37.5,40,42.5,45,47.5,50], "range": ["#1e1e78","#2c3ae4","#3174ff","#36c2ff","#3ce8f2","#52ffca","#6cffa2","#8cfa78","#b2f44c","#d6ee22","#e6d810","#e8b802","#e8900a","#e8640e","#e4340c","#d01c0e","#a00e0c","#6c0808"]}},
                     "stroke": {"field": "v", "type": "quantitative", "legend": null,
                       "scale": {"domain": [0,5,10,15,17.5,20,22.5,25,27.5,30,32.5,35,37.5,40,42.5,45,47.5,50], "range": ["#1e1e78","#2c3ae4","#3174ff","#36c2ff","#3ce8f2","#52ffca","#6cffa2","#8cfa78","#b2f44c","#d6ee22","#e6d810","#e8b802","#e8900a","#e8640e","#e4340c","#d01c0e","#a00e0c","#6c0808"]}}
                   }},
                  {"transform": [{"filter": "datum.k === 'e'"}],
                   "mark": {"type": "rule", "color": "#1a1a1a", "strokeWidth": 1.2},
                   "encoding": {"x": {"field": "x0", "type": "quantitative"}, "y": {"datum": 0, "type": "quantitative"}, "y2": {"datum": 1}}},
                  {"transform": [{"filter": "datum.k === 'e' && datum.x0 === 0.35"}],
                   "mark": {"type": "rect", "fill": "transparent", "stroke": "#3a3a3a", "strokeWidth": 1},
                   "encoding": {"x": {"datum": 0, "type": "quantitative"}, "x2": {"datum": 1}, "y": {"datum": 0, "type": "quantitative"}, "y2": {"datum": 1}}}
                ]
              }
            },
            {
              "title": {"text": "MEETP⁺", "dx": -57, "offset": 1},
              "data": {"name": "d"},
              "transform": [{"filter": "datum.g === 'MEETPp'"}],
              "facet": {"column": {"field": "t", "type": "nominal"}},
              "spacing": 30,
              "spec": {
                "width": 80.5, "height": 249,
                "layer": [
                  {"transform": [{"filter": "datum.k === 'c'"}],
                   "mark": {"type": "rect", "strokeWidth": 0.6},
                   "encoding": {
                     "x": {"field": "x0", "type": "quantitative", "scale": {"domain": [0, 1], "nice": false, "zero": false}, "axis": null},
                     "x2": {"field": "x1"},
                     "y": {"field": "y0", "type": "quantitative", "scale": {"domain": [0, 1.0506], "nice": false, "zero": false}, "axis": null},
                     "y2": {"field": "y1"},
                     "color": {"field": "v", "type": "quantitative", "legend": null,
                       "scale": {"domain": [0,5,10,15,17.5,20,22.5,25,27.5,30,32.5,35,37.5,40,42.5,45,47.5,50], "range": ["#1e1e78","#2c3ae4","#3174ff","#36c2ff","#3ce8f2","#52ffca","#6cffa2","#8cfa78","#b2f44c","#d6ee22","#e6d810","#e8b802","#e8900a","#e8640e","#e4340c","#d01c0e","#a00e0c","#6c0808"]}},
                     "stroke": {"field": "v", "type": "quantitative", "legend": null,
                       "scale": {"domain": [0,5,10,15,17.5,20,22.5,25,27.5,30,32.5,35,37.5,40,42.5,45,47.5,50], "range": ["#1e1e78","#2c3ae4","#3174ff","#36c2ff","#3ce8f2","#52ffca","#6cffa2","#8cfa78","#b2f44c","#d6ee22","#e6d810","#e8b802","#e8900a","#e8640e","#e4340c","#d01c0e","#a00e0c","#6c0808"]}}
                   }},
                  {"transform": [{"filter": "datum.k === 'e'"}],
                   "mark": {"type": "rule", "color": "#1a1a1a", "strokeWidth": 1.2},
                   "encoding": {"x": {"field": "x0", "type": "quantitative"}, "y": {"datum": 0, "type": "quantitative"}, "y2": {"datum": 1}}},
                  {"transform": [{"filter": "datum.k === 'e' && datum.x0 === 0.35"}],
                   "mark": {"type": "rect", "fill": "transparent", "stroke": "#3a3a3a", "strokeWidth": 1},
                   "encoding": {"x": {"datum": 0, "type": "quantitative"}, "x2": {"datum": 1}, "y": {"datum": 0, "type": "quantitative"}, "y2": {"datum": 1}}}
                ]
              }
            }
          ]
        }
      ]
    },
    {
      "data": {"name": "bar"},
      "width": 16,
      "height": 573,
      "title": {"text": "Concentration (mol/m³)", "orient": "left", "anchor": "middle", "font": "Liberation Sans", "fontSize": 23, "fontWeight": "normal", "color": "#111", "offset": 12},
      "layer": [
        {
          "mark": {"type": "rect", "strokeWidth": 0.6},
          "encoding": {
            "y": {"field": "lo", "type": "quantitative", "scale": {"domain": [0, 50], "nice": false, "zero": false},
                  "axis": {"orient": "right", "values": [0,5,10,15,20,25,30,35,40,45,50], "grid": false, "domain": false, "ticks": true, "tickSize": 4, "tickColor": "#222", "tickWidth": 1, "labelFont": "DejaVu Sans", "labelFontSize": 12, "labelColor": "#222", "labelPadding": 3, "title": null}},
            "y2": {"field": "hi"},
            "color": {"field": "v", "type": "quantitative", "legend": null,
              "scale": {"domain": [0,5,10,15,17.5,20,22.5,25,27.5,30,32.5,35,37.5,40,42.5,45,47.5,50], "range": ["#1e1e78","#2c3ae4","#3174ff","#36c2ff","#3ce8f2","#52ffca","#6cffa2","#8cfa78","#b2f44c","#d6ee22","#e6d810","#e8b802","#e8900a","#e8640e","#e4340c","#d01c0e","#a00e0c","#6c0808"]}},
            "stroke": {"field": "v", "type": "quantitative", "legend": null,
              "scale": {"domain": [0,5,10,15,17.5,20,22.5,25,27.5,30,32.5,35,37.5,40,42.5,45,47.5,50], "range": ["#1e1e78","#2c3ae4","#3174ff","#36c2ff","#3ce8f2","#52ffca","#6cffa2","#8cfa78","#b2f44c","#d6ee22","#e6d810","#e8b802","#e8900a","#e8640e","#e4340c","#d01c0e","#a00e0c","#6c0808"]}}
          }
        },
        {
          "transform": [{"filter": "datum.lo === 0"}],
          "mark": {"type": "rect", "fill": "transparent", "stroke": "#222", "strokeWidth": 1},
          "encoding": {
            "y": {"datum": 0, "type": "quantitative"},
            "y2": {"datum": 50}
          }
        }
      ]
    }
  ]
}
